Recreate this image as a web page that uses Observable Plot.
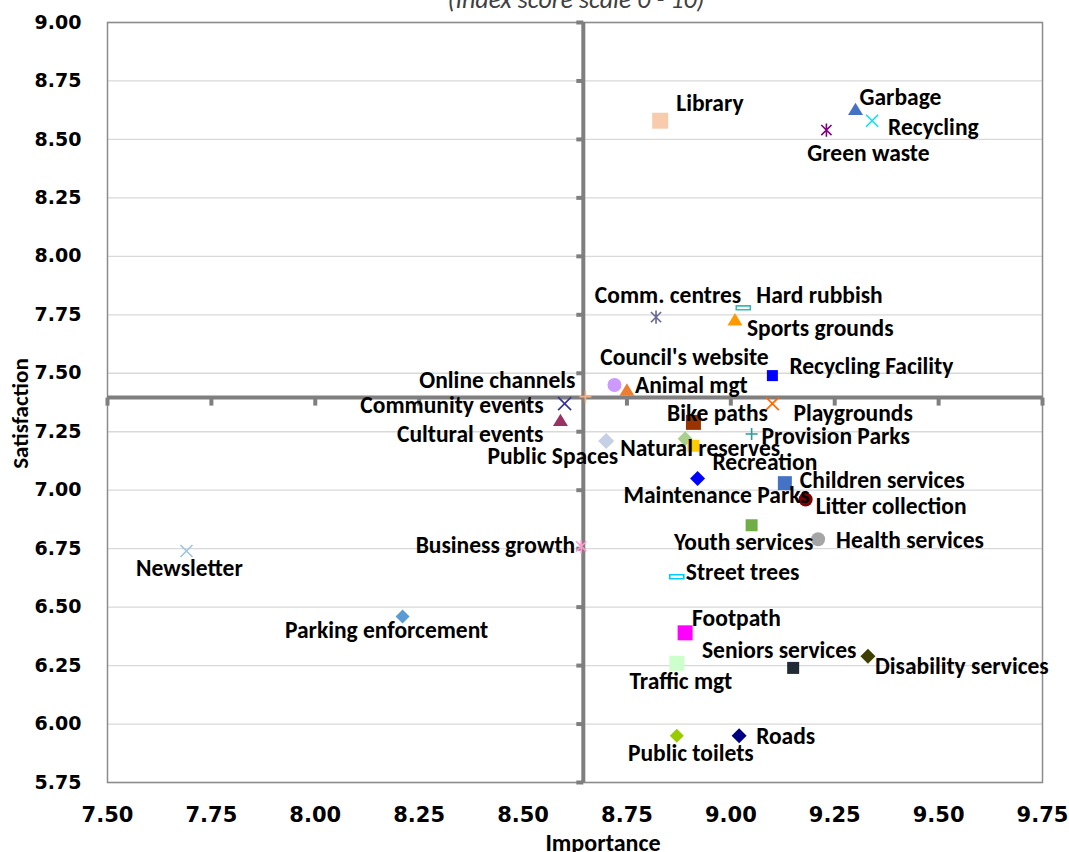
<!DOCTYPE html>
<html>
<head>
<meta charset="utf-8">
<script src="https://cdn.jsdelivr.net/npm/d3@7"></script>
<script src="https://cdn.jsdelivr.net/npm/@observablehq/plot@0.6"></script>
<style>
  html, body { margin: 0; padding: 0; background: #fff; overflow: hidden; }
  #wrap { position: relative; width: 1069px; height: 852px; overflow: hidden; }
  #subtitle { position: absolute; top: -17px; left: 0; width: 1152px; text-align: center;
    font-family: Carlito, "Liberation Sans Narrow", "Liberation Sans", sans-serif; font-style: italic;
    font-size: 26px; color: #404040; }
  #chart { position: absolute; top: 0; left: 0; }
</style>
</head>
<body>
<div id="wrap">
  <div id="chart"></div>
  <div id="subtitle">(Index score scale 0 - 10)</div>
</div>
<script>
// ---------------- data ----------------
const names = ["Library","Garbage","Recycling","Green waste","Comm. centres","Hard rubbish","Sports grounds",
  "Recycling Facility","Council's website","Online channels","Animal mgt","Community events","Cultural events",
  "Public Spaces","Bike paths","Playgrounds","Provision Parks","Natural reserves","Recreation","Maintenance Parks",
  "Children services","Litter collection","Youth services","Health services","Business growth","Newsletter",
  "Street trees","Parking enforcement","Footpath","Traffic mgt","Seniors services","Disability services",
  "Roads","Public toilets"];
const importance = [8.83, 9.30, 9.34, 9.23, 8.82, 9.03, 9.01,
  9.10, 8.72, 8.65, 8.75, 8.60, 8.59,
  8.70, 8.91, 9.10, 9.05, 8.89, 8.91, 8.92,
  9.13, 9.18, 9.05, 9.21, 8.64, 7.69,
  8.87, 8.21, 8.89, 8.87, 9.15, 9.33,
  9.02, 8.87];
const satisfaction = [8.58, 8.63, 8.58, 8.54, 7.74, 7.78, 7.73,
  7.49, 7.45, 7.40, 7.43, 7.37, 7.30,
  7.21, 7.29, 7.37, 7.24, 7.22, 7.19, 7.05,
  7.03, 6.96, 6.85, 6.79, 6.76, 6.74,
  6.63, 6.46, 6.39, 6.26, 6.24, 6.29,
  5.95, 5.95];
const avgImportance = 8.645;
const avgSatisfaction = 7.396;
const xTicks = [7.50, 7.75, 8.00, 8.25, 8.50, 8.75, 9.00, 9.25, 9.50, 9.75];
const yTicks = [5.75, 6.00, 6.25, 6.50, 6.75, 7.00, 7.25, 7.50, 7.75, 8.00, 8.25, 8.50, 8.75, 9.00];

// ---------------- styles ----------------
const markerShape = ["square","triangle","times","asterisk","asterisk","rect","triangle",
  "square","circle","plus","triangle","times","triangle",
  "diamond","square","times","plus","diamond","square","diamond",
  "square","circle","square","circle","asterisk","times",
  "rect","diamond","square","square","square","diamond",
  "diamond","diamond"];
const markerColor = ["#F8CBAD","#4472C4","#00E5FF","#800080","#666699","#33BBBB","#FF9900",
  "#0000FF","#CC99FF","#F4B183","#ED7D31","#333399","#993366",
  "#C5D0E6","#993300","#FF6600","#339999","#A9D08E","#FFCC00","#0000FF",
  "#4472C4","#7F0000","#70AD47","#A5A5A5","#FF99CC","#9DC3E6",
  "#00CCFF","#5B9BD5","#FF00FF","#CCFFCC","#222A35","#3F3F00",
  "#000080","#99CC00"];
const markerR = [8, 7.5, 6, 6, 6, 7, 7.5,
  5.5, 7, 6, 7.5, 6.5, 7.5,
  8, 7.5, 6.5, 6, 7.5, 6, 7.5,
  7, 7, 6, 7, 6, 6,
  7, 7, 7.5, 7.5, 6, 7.5,
  7.5, 7];
// label placement: [dx, dy, anchor]
const labelPos = [
  [16,-17,"start"],[4,-12,"start"],[16,7,"start"],[42,23,"middle"],[12,-22,"middle"],[13,-12,"start"],[12,9,"start"],
  [17,-9,"start"],[70,-27,"middle"],[-10,-16,"end"],[8,-4,"start"],[-21,2,"end"],[-17,14,"end"],
  [12,15,"end"],[24,-9,"middle"],[21,10,"start"],[10,2,"start"],[15,10,"middle"],[19,17,"start"],[19,17,"middle"],
  [15,-3,"start"],[10,7,"start"],[-8,17,"middle"],[18,1,"start"],[-6,-1,"end"],[3,17,"middle"],
  [9,-4,"start"],[-16,14,"middle"],[7,-14,"start"],[4,18,"middle"],[-14,-17,"middle"],[7,10,"start"],
  [17,1,"start"],[14,18,"middle"]
];

// ---------------- symbols (half-extent h = sqrt(size/PI) = Plot r) ----------------
const H = size => Math.sqrt(size / Math.PI);
const sym = {
  square: {draw(c, s){ const h = H(s); c.rect(-h, -h, 2*h, 2*h); }},
  triangle: {draw(c, s){ const h = H(s); c.moveTo(0, -h*0.85); c.lineTo(h, h*0.8); c.lineTo(-h, h*0.8); c.closePath(); }},
  diamond: {draw(c, s){ const h = H(s); c.moveTo(0, -h); c.lineTo(h, 0); c.lineTo(0, h); c.lineTo(-h, 0); c.closePath(); }},
  circle: {draw(c, s){ const h = H(s); c.moveTo(h, 0); c.arc(0, 0, h, 0, 2*Math.PI); }},
  times: {draw(c, s){ const h = H(s); c.moveTo(-h,-h); c.lineTo(h,h); c.moveTo(-h,h); c.lineTo(h,-h); }},
  plus: {draw(c, s){ const h = H(s); c.moveTo(-h,0); c.lineTo(h,0); c.moveTo(0,-h); c.lineTo(0,h); }},
  asterisk: {draw(c, s){ const h = H(s); const k = h*0.85; c.moveTo(-k,-k); c.lineTo(k,k); c.moveTo(-k,k); c.lineTo(k,-k); c.moveTo(0,-h*1.1); c.lineTo(0,h*1.1); }},
  rect: {draw(c, s){ const h = H(s); c.rect(-h, -h*0.28, 2*h, h*0.56); }},
  tickDown: {draw(c, s){ const h = H(s); c.moveTo(0, 0); c.lineTo(0, h); }},
  tickLeft: {draw(c, s){ const h = H(s); c.moveTo(0, 0); c.lineTo(-h, 0); }}
};
const filledShapes = new Set(["square","triangle","diamond","circle"]);

const rows = names.map((n, i) => ({
  name: n, x: importance[i], y: satisfaction[i], shape: markerShape[i], color: markerColor[i], r: markerR[i],
  dx: labelPos[i][0], dy: labelPos[i][1], anchor: labelPos[i][2]
}));

const labelFont = "Carlito, 'Liberation Sans Narrow', 'Liberation Sans', sans-serif";
const tickFont = "'DejaVu Sans', sans-serif";
const textMarks = rows.map(d => Plot.text([d], {x: "x", y: "y", text: "name", dx: d.dx, dy: d.dy, textAnchor: d.anchor,
  fontSize: 23.5, fontWeight: "bold", fill: "#000", fontFamily: labelFont}));

const chart = Plot.plot({
  width: 1069, height: 852,
  marginLeft: 107, marginRight: 27, marginTop: 22, marginBottom: 70,
  x: {domain: [7.5, 9.75], label: null, axis: null},
  y: {domain: [5.75, 9.0], label: null, axis: null},
  style: {background: "#fff", overflow: "visible"},
  marks: [
    Plot.gridY(yTicks, {stroke: "#d9d9d9", strokeOpacity: 1, strokeWidth: 1.3}),
    Plot.frame({stroke: "#8c8c8c", strokeWidth: 1.5}),
    Plot.ruleX([avgImportance], {stroke: "#7f7f7f", strokeWidth: 4}),
    Plot.ruleY([avgSatisfaction], {stroke: "#7f7f7f", strokeWidth: 4}),
    Plot.dot(xTicks, {x: d => d, y: avgSatisfaction, symbol: sym.tickDown, r: 8, stroke: "#7f7f7f", strokeWidth: 4, fill: "none"}),
    Plot.dot(yTicks, {x: avgImportance, y: d => d, symbol: sym.tickLeft, r: 7, stroke: "#7f7f7f", strokeWidth: 4, fill: "none"}),
    Plot.axisX(xTicks, {tickSize: 0, tickPadding: 25, tickFormat: d => d.toFixed(2), fontSize: 21, fontWeight: "bold",
      fontFamily: tickFont, fill: "#000", label: null}),
    Plot.axisY(yTicks, {tickSize: 0, tickPadding: 26, tickFormat: d => d.toFixed(2), fontSize: 19, fontWeight: "bold",
      fontFamily: tickFont, fill: "#000", label: null}),
    ...rows.filter(d => filledShapes.has(d.shape)).map(d =>
      Plot.dot([d], {x: "x", y: "y", symbol: sym[d.shape], r: d.r, fill: d.color, stroke: "none"})),
    ...rows.filter(d => !filledShapes.has(d.shape)).map(d =>
      Plot.dot([d], {x: "x", y: "y", symbol: sym[d.shape], r: d.r, fill: "none", stroke: d.color, strokeWidth: 1.6})),
    ...textMarks,
    Plot.text(["Satisfaction"], {frameAnchor: "left", textAnchor: "middle", lineAnchor: "middle", dx: -87, dy: 11, rotate: -90,
      fontSize: 23, fontWeight: "bold", fontFamily: labelFont, fill: "#000"}),
    Plot.text(["Importance"], {frameAnchor: "bottom", textAnchor: "middle", lineAnchor: "middle", dx: 28, dy: 61,
      fontSize: 24, fontWeight: "bold", fontFamily: labelFont, fill: "#000"})
  ]
});
document.getElementById("chart").appendChild(chart);
</script>
</body>
</html>
